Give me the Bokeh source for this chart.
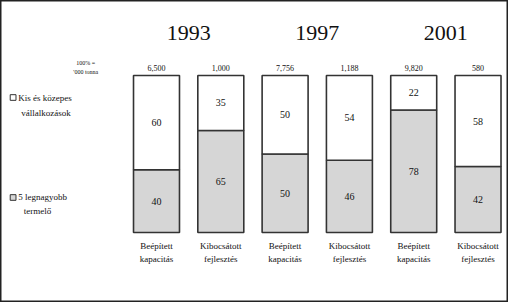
from bokeh.plotting import figure
from bokeh.models import Range1d, ColumnDataSource
from bokeh.core.properties import value
from bokeh.embed import file_html
from bokeh.resources import INLINE

years = ["1993", "1997", "2001"]
totals = ["6,500", "1,000", "7,756", "1,188", "9,820", "580"]
big5 = [40, 65, 50, 46, 78, 42]
sme = [60, 35, 50, 54, 22, 58]
cat_line1 = ["Beépített", "Kibocsátott", "Beépített", "Kibocsátott", "Beépített", "Kibocsátott"]
cat_line2 = ["kapacitás", "fejlesztés", "kapacitás", "fejlesztés", "kapacitás", "fejlesztés"]
legend_sme = ["Kis és közepes", "vállalkozások"]
legend_big = ["5 legnagyobb", "termelő"]
unit_label = ["100% =", "'000 tonna"]

FONT = value("Liberation Serif")

xs = list(range(len(big5)))
src = ColumnDataSource(dict(
    x=xs, big=big5, sme=sme, top=[100] * len(xs),
    big_mid=[b / 2 for b in big5],
    sme_mid=[b + s / 2 for b, s in zip(big5, sme)],
    big_txt=[str(v) for v in big5], sme_txt=[str(v) for v in sme],
    tot=totals, l1=cat_line1, l2=cat_line2,
))

p = figure(width=508, height=302, output_backend="svg", toolbar_location=None,
           x_range=Range1d(-2.426, 5.474), y_range=Range1d(-44.6, 147.8),
           min_border=0)
p.axis.visible = False
p.grid.visible = False
p.outline_line_color = "#222222"
p.outline_line_width = 2
p.background_fill_color = "white"

W = 0.715
p.vbar(x="x", bottom=0, top="big", width=W, source=src, fill_color="#d6d6d6",
       line_color="#333333", line_width=1.6)
p.vbar(x="x", bottom="big", top="top", width=W, source=src, fill_color="white",
       line_color="#333333", line_width=1.6)

p.text(x="x", y="big_mid", text="big_txt", source=src, text_font=FONT,
       text_font_size="10px", text_align="center", text_baseline="middle", text_color="#111111")
p.text(x="x", y="sme_mid", text="sme_txt", source=src, text_font=FONT,
       text_font_size="10px", text_align="center", text_baseline="middle", text_color="#111111")
p.text(x="x", y=103, text="tot", source=src, text_font=FONT,
       text_font_size="8px", text_align="center", text_baseline="bottom", text_color="#111111")
p.text(x="x", y=-8.3, text="l1", source=src, text_font=FONT,
       text_font_size="9px", text_align="center", text_baseline="middle", text_color="#111111")
p.text(x="x", y=-17.2, text="l2", source=src, text_font=FONT,
       text_font_size="9px", text_align="center", text_baseline="middle", text_color="#111111")

# years centred over pairs
p.text(x=[0.5, 2.5, 4.5], y=[127, 127, 127], text=years, text_font=FONT,
       text_font_size="22px", text_align="center", text_baseline="middle", text_color="#111111")

# unit label
p.text(x=[-1.10, -1.10], y=[108, 102], text=unit_label, text_font=FONT,
       text_font_size="6px", text_align="center", text_baseline="middle", text_color="#111111")

# legend
p.rect(x=[-2.23, -2.23], y=[86, 22.3], width=0.09, height=3.6, fill_color=["white", "#d6d6d6"],
       line_color="#333333", line_width=1)
p.text(x=[-2.15, -1.72], y=[86, 76.4], text=legend_sme, text_font=FONT,
       text_font_size="9px", text_align=["left", "center"], text_baseline="middle", text_color="#111111")
p.text(x=[-2.15, -1.85], y=[22.3, 13.4], text=legend_big, text_font=FONT,
       text_font_size="9px", text_align=["left", "center"], text_baseline="middle", text_color="#111111")

open("out.html", "w").write(file_html(p, INLINE))
